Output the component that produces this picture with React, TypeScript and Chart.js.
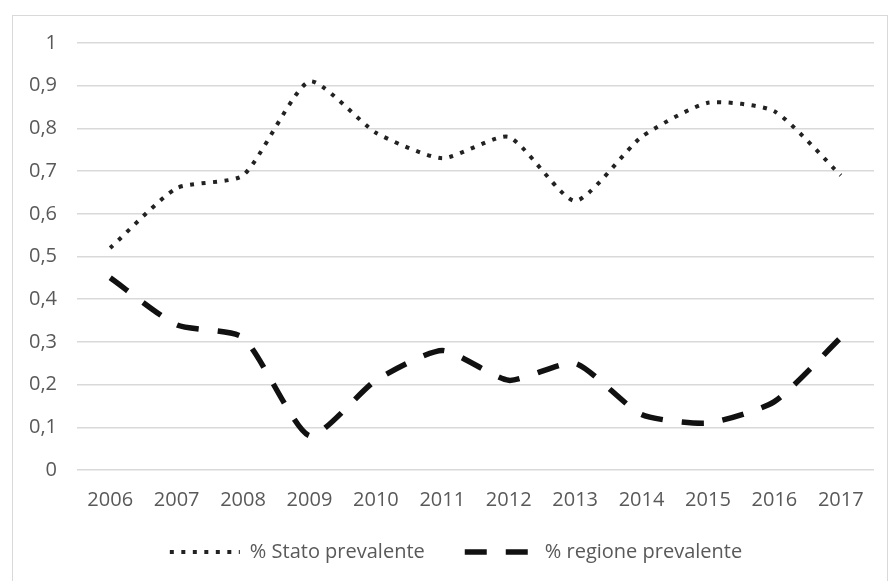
import React, { useEffect, useRef } from 'react';
import { Chart, registerables } from 'chart.js';

Chart.register(...registerables);

const years = ['2006', '2007', '2008', '2009', '2010', '2011', '2012', '2013', '2014', '2015', '2016', '2017'];
const statoPrevalente = [0.52, 0.66, 0.69, 0.91, 0.79, 0.73, 0.78, 0.63, 0.78, 0.86, 0.84, 0.69];
const regionePrevalente = [0.45, 0.34, 0.31, 0.08, 0.21, 0.28, 0.21, 0.25, 0.13, 0.11, 0.16, 0.31];
const yTickLabels = ['0', '0,1', '0,2', '0,3', '0,4', '0,5', '0,6', '0,7', '0,8', '0,9', '1'];
const seriesNames = ['% Stato prevalente', '% regione prevalente'];

const textColor = '#595959';
const gridColor = '#d9d9d9';
const font = { family: "'Open Sans', sans-serif", size: 20 };

// Nudges the bottom legend box so it sits under the plot like the Excel layout.
const legendOffset = {
  id: 'legendOffset',
  afterLayout(chart: any) {
    const lg = chart.legend;
    if (!lg) return;
    lg.top -= 10;
    lg.bottom -= 10;
    lg.left += 6;
    lg.right += 6;
  },
};

export default function App() {
  const canvasRef = useRef<HTMLCanvasElement>(null);

  useEffect(() => {
    if (!canvasRef.current) return;
    const chart = new Chart(canvasRef.current, {
      type: 'line',
      data: {
        labels: years,
        datasets: [
          {
            label: seriesNames[0],
            data: statoPrevalente,
            borderColor: '#222222',
            backgroundColor: '#222222',
            borderWidth: 4,
            borderDash: [4, 7.5],
            borderCapStyle: 'butt',
            tension: 0.2,
            pointRadius: 0,
            fill: false,
          },
          {
            label: seriesNames[1],
            data: regionePrevalente,
            borderColor: '#111111',
            backgroundColor: '#111111',
            borderWidth: 5.5,
            borderDash: [22, 19],
            borderCapStyle: 'butt',
            tension: 0.2,
            pointRadius: 0,
            fill: false,
          },
        ],
      },
      options: {
        animation: false,
        responsive: false,
        layout: { padding: { left: 26, right: 19, top: 43, bottom: 0 } },
        plugins: {
          legend: {
            position: 'bottom',
            labels: {
              usePointStyle: true,
              pointStyle: 'line',
              pointStyleWidth: 70,
              padding: 40,
              color: textColor,
              font,
              // legend samples use the dataset line style (dash, width)
              generateLabels: (c: any) =>
                c.data.datasets.map((ds: any, i: number) => ({
                  text: ds.label,
                  fillStyle: ds.borderColor,
                  strokeStyle: ds.borderColor,
                  lineWidth: ds.borderWidth,
                  lineDash: ds.borderDash,
                  lineCap: 'butt',
                  pointStyle: 'line',
                  fontColor: textColor,
                  hidden: false,
                  datasetIndex: i,
                })),
            },
          },
          tooltip: { enabled: false },
        },
        scales: {
          x: {
            offset: true,
            grid: { display: false, drawTicks: false },
            border: { display: false },
            ticks: { padding: 18, color: textColor, font, maxRotation: 0, autoSkip: false },
            afterFit: (scale: any) => {
              scale.height = 42;
            },
          },
          y: {
            min: 0,
            max: 1,
            grid: { color: gridColor, lineWidth: 1.5, drawTicks: false },
            border: { display: false },
            ticks: {
              stepSize: 0.1,
              padding: 20,
              color: textColor,
              font,
              callback: (_v: any, i: number) => yTickLabels[i],
            },
            afterFit: (scale: any) => {
              scale.width = 51;
            },
          },
        },
      },
      plugins: [legendOffset],
    } as any);
    return () => chart.destroy();
  }, []);

  return (
    <div style={{ position: 'absolute', left: 0, top: 0, width: 893, height: 581, overflow: 'hidden', background: '#fff' }}>
      <div
        style={{
          position: 'absolute',
          left: 12,
          top: 15,
          width: 876,
          height: 700,
          border: `1.5px solid ${gridColor}`,
          boxSizing: 'border-box',
        }}
      />
      <canvas ref={canvasRef} width={893} height={582} style={{ position: 'absolute', left: 0, top: 0 }} />
    </div>
  );
}
